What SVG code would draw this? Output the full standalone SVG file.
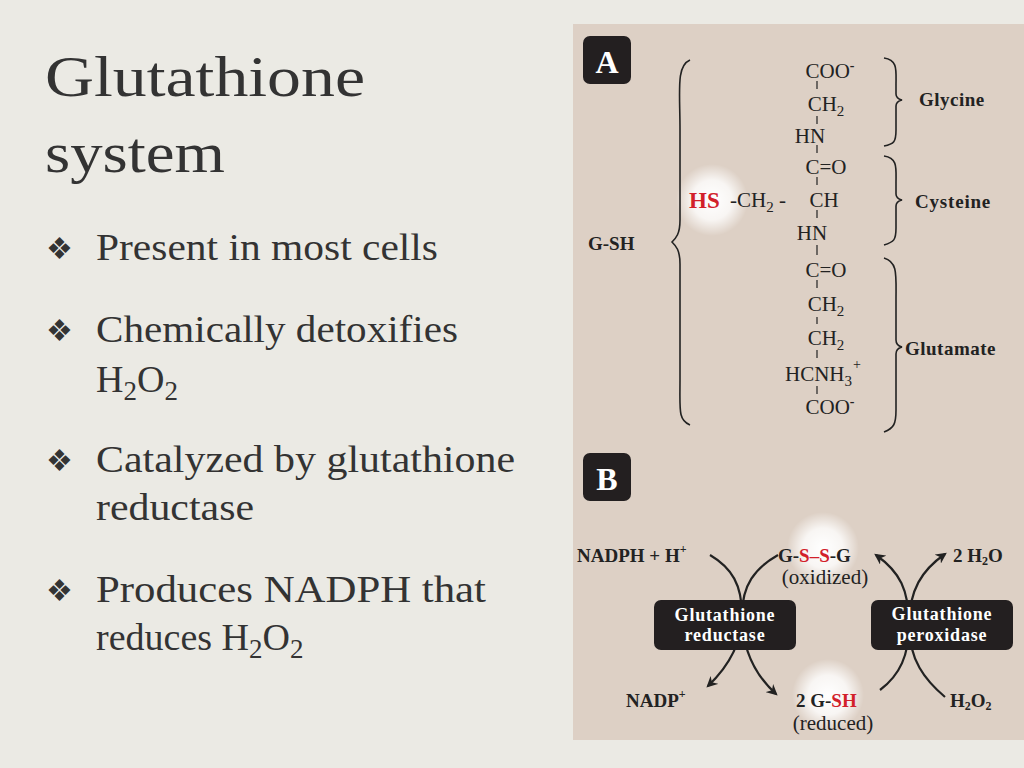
<svg xmlns="http://www.w3.org/2000/svg" width="1024" height="768" viewBox="0 0 1024 768">
<defs>
<radialGradient id="glow"><stop offset="0" stop-color="#fff" stop-opacity="1"/><stop offset="0.55" stop-color="#fff" stop-opacity="0.8"/><stop offset="1" stop-color="#fff" stop-opacity="0"/></radialGradient>
<marker id="ah" viewBox="0 0 10 10" refX="8" refY="5" markerWidth="5" markerHeight="5" orient="auto"><path d="M0,0 L10,5 L0,10 L3,5 z" fill="#222"/></marker>
<style>
.slide{font-family:"Liberation Serif",serif;fill:#333;}
.ch{font-family:"Liberation Serif",serif;font-size:21px;fill:#222;}
.b{font-family:"Liberation Serif",serif;font-weight:bold;font-size:19px;fill:#222;}
.red{fill:#d2202a;font-weight:bold;}
.lbl{font-family:"Liberation Serif",serif;font-size:32px;font-weight:bold;fill:#fff;}
.enz{font-family:"Liberation Serif",serif;font-size:18px;font-weight:bold;fill:#fff;letter-spacing:0.8px;}
.br{fill:none;stroke:#222;stroke-width:1.6;}
.bond{stroke:#222;stroke-width:1.2;}
.arr{fill:none;stroke:#222;stroke-width:2.2;marker-end:url(#ah);}
</style>
</defs>
<rect width="1024" height="768" fill="#ebeae4"/>
<g id="title" class="slide">
<text x="45" y="96" font-size="58" textLength="320" lengthAdjust="spacingAndGlyphs">Glutathione</text>
<text x="45" y="172" font-size="58" textLength="180" lengthAdjust="spacingAndGlyphs">system</text>
</g>
<g id="bullets" class="slide" font-size="38">
<text x="46" y="259" font-size="30">❖</text><text x="96" y="260" textLength="342" lengthAdjust="spacingAndGlyphs">Present in most cells</text>
<text x="46" y="341" font-size="30">❖</text><text x="96" y="342" textLength="362" lengthAdjust="spacingAndGlyphs">Chemically detoxifies</text>
<text x="96" y="392">H<tspan font-size="27" dy="8">2</tspan><tspan dy="-8">O</tspan><tspan font-size="27" dy="8">2</tspan></text>
<text x="46" y="471" font-size="30">❖</text><text x="96" y="472" textLength="419" lengthAdjust="spacingAndGlyphs">Catalyzed by glutathione</text>
<text x="96" y="520" textLength="158" lengthAdjust="spacingAndGlyphs">reductase</text>
<text x="46" y="601" font-size="30">❖</text><text x="96" y="602" textLength="390" lengthAdjust="spacingAndGlyphs">Produces NADPH that</text>
<text x="96" y="650">reduces H<tspan font-size="27" dy="8">2</tspan><tspan dy="-8">O</tspan><tspan font-size="27" dy="8">2</tspan></text>
</g>
<rect x="573" y="24" width="451" height="716" fill="#ddd0c5"/>
<g id="panelA">
<rect x="583" y="36" width="48" height="48" rx="7" fill="#231f20"/>
<text class="lbl" x="607" y="73" text-anchor="middle">A</text>
<circle cx="712" cy="200" r="36" fill="url(#glow)"/>
<text class="b" x="588" y="250" font-size="22">G-SH</text>
<path class="br" d="M690,60 C676,66 680,90 680,130 L680,220 C680,234 676,238 672,242 C676,246 680,250 680,264 L680,380 C680,410 678,420 690,425"/>
<g class="ch" text-anchor="middle">
<text x="830" y="78">COO<tspan dy="-8" font-size="14" font-weight="bold">-</tspan></text>
<text x="826" y="111">CH<tspan font-size="15" dy="5">2</tspan></text>
<text x="810" y="143">HN</text>
<text x="826" y="174">C=O</text>
<text x="824" y="207">CH</text>
<text x="812" y="240">HN</text>
<text x="826" y="277">C=O</text>
<text x="826" y="311">CH<tspan font-size="15" dy="5">2</tspan></text>
<text x="826" y="345">CH<tspan font-size="15" dy="5">2</tspan></text>
<text x="823" y="381">HCNH<tspan font-size="15" dy="5">3</tspan><tspan font-size="14" dx="1" dy="-17">+</tspan></text>
<text x="830" y="414">COO<tspan dy="-8" font-size="14" font-weight="bold">-</tspan></text>
</g>
<text x="689" y="208" font-family="Liberation Serif,serif" font-size="23" class="red">HS</text>
<text class="ch" x="730" y="207">-CH<tspan font-size="15" dy="5">2</tspan><tspan dy="-5"> -</tspan></text>
<g class="bond">
<line x1="817" y1="81" x2="817" y2="89"/><line x1="817" y1="116" x2="817" y2="124"/><line x1="817" y1="145" x2="817" y2="153"/>
<line x1="817" y1="177" x2="817" y2="185"/><line x1="817" y1="210" x2="817" y2="218"/><line x1="817" y1="245" x2="817" y2="255"/>
<line x1="817" y1="280" x2="817" y2="288"/><line x1="817" y1="317" x2="817" y2="324"/><line x1="817" y1="350" x2="817" y2="358"/>
<line x1="817" y1="386" x2="817" y2="394"/>
</g>
<path class="br" d="M884,58 C898,60 896,70 896,85 L896,94 C896,97 898,99 902,100 C898,101 896,103 896,106 L896,130 C896,142 894,144 884,146"/>
<path class="br" d="M884,156 C898,158 896,168 896,183 L896,194 C896,197 898,199 902,200 C898,201 896,203 896,206 L896,228 C896,240 894,242 884,245"/>
<path class="br" d="M884,258 C898,262 896,275 896,300 L896,340 C896,344 898,346 902,347 C898,348 896,350 896,354 L896,410 C896,424 894,428 884,432"/>
<text class="b" x="919" y="106" letter-spacing="0.5">Glycine</text>
<text class="b" x="915" y="208" letter-spacing="0.8">Cysteine</text>
<text class="b" x="905" y="355" letter-spacing="0.5">Glutamate</text>
</g>
<g id="panelB">
<rect x="583" y="453" width="48" height="48" rx="7" fill="#231f20"/>
<text class="lbl" x="607" y="490" text-anchor="middle">B</text>
<circle cx="823" cy="548" r="36" fill="url(#glow)"/>
<circle cx="828" cy="695" r="36" fill="url(#glow)"/>
<g id="connectors">
<path class="arr" d="M710,555 C732,568 742,585 742,615 C742,640 730,665 708,686"/>
<path class="arr" d="M778,555 C755,568 742,585 742,615 C742,650 755,675 776,694"/>
<path class="arr" d="M880,690 C900,675 909,655 909,625 C909,590 900,572 876,555"/>
<path class="arr" d="M945,697 C925,680 909,660 909,625 C909,590 922,570 945,554"/>
</g>
<g id="reductase"><rect x="654" y="600" width="142" height="50" rx="7" fill="#231f20"/>
<text class="enz" x="725" y="621" text-anchor="middle">Glutathione</text><text class="enz" x="725" y="641" text-anchor="middle">reductase</text></g>
<g id="peroxidase"><rect x="871" y="600" width="142" height="50" rx="7" fill="#231f20"/>
<text class="enz" x="942" y="620" text-anchor="middle">Glutathione</text><text class="enz" x="942" y="641" text-anchor="middle">peroxidase</text></g>
<text class="b" x="577" y="562">NADPH + H<tspan font-size="12" dy="-9">+</tspan></text>
<text class="b" x="778" y="562">G-<tspan class="red">S–S</tspan>-G</text>
<text class="ch" x="825" y="584" font-size="17" text-anchor="middle">(oxidized)</text>
<text class="b" x="953" y="562">2 H<tspan font-size="12" dy="3">2</tspan><tspan dy="-3">O</tspan></text>
<text class="b" x="626" y="707">NADP<tspan font-size="12" dy="-9">+</tspan></text>
<text class="b" x="796" y="707">2 G-<tspan class="red">SH</tspan></text>
<text class="ch" x="833" y="730" font-size="17" text-anchor="middle">(reduced)</text>
<text class="b" x="950" y="707">H<tspan font-size="12" dy="3">2</tspan><tspan dy="-3">O</tspan><tspan font-size="12" dy="3">2</tspan></text>
</g>
</svg>
